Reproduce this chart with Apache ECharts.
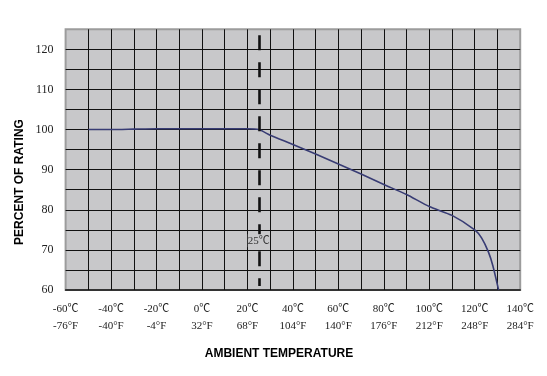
<!DOCTYPE html>
<html>
<head>
<meta charset="utf-8">
<script src="https://cdn.jsdelivr.net/npm/echarts@6/dist/echarts.min.js"></script>
<style>html,body{margin:0;padding:0;background:#fff;}#c{width:547px;height:376px;}</style>
</head>
<body>
<div id="c"></div>
<script>
var temps   = [-50, -40, -30, -20, 0, 20, 25, 30, 40, 50, 60, 70, 80, 90, 100, 110, 120, 123, 126, 128, 130.5];
var ratings = [100, 100, 100.1, 100.2, 100.2, 100.2, 100, 98.6, 96.3, 93.9, 91.4, 88.9, 86.3, 83.8, 80.8, 78.6, 75, 73, 69.5, 66, 60];
var celsiusTicks = [-60, -40, -20, 0, 20, 40, 60, 80, 100, 120, 140];
var celsiusLabels = ['-60℃', '-40℃', '-20℃', '0℃', '20℃', '40℃', '60℃', '80℃', '100℃', '120℃', '140℃'];
var fahrenheitLabels = ['-76°F', '-40°F', '-4°F', '32°F', '68°F', '104°F', '140°F', '176°F', '212°F', '248°F', '284°F'];
var markerTemp = 25;
var markerRange = [123.5, 61];
var markerLabelValue = 72.3;
var markerLabel = '25℃';

var chart = echarts.init(document.getElementById('c'));
var seriesData = temps.map(function (t, i) { return [t, ratings[i]]; });
var labelFont = 'Liberation Serif, Noto Sans CJK SC, serif';

chart.setOption({
  animation: false,
  grid: {
    left: 65.6, right: 26.8, top: 29.3, bottom: 86,
    show: true, backgroundColor: '#c8c8ca', borderColor: '#9c9c9c', borderWidth: 2
  },
  xAxis: {
    type: 'value', min: -60, max: 140, interval: 10,
    axisLine: { show: true, onZero: false, lineStyle: { color: '#111', width: 1.5 } },
    axisTick: { show: false },
    splitLine: { show: true, showMinLine: false, showMaxLine: false, lineStyle: { color: '#111', width: 1 } },
    axisLabel: {
      margin: 11, color: '#222', fontFamily: labelFont, fontSize: 11, lineHeight: 17,
      formatter: function (v) {
        var i = celsiusTicks.indexOf(v);
        return i < 0 ? '' : celsiusLabels[i] + '\n' + fahrenheitLabels[i];
      }
    }
  },
  yAxis: {
    type: 'value', min: 60, max: 125, interval: 5,
    axisLine: { show: false },
    axisTick: { show: false },
    splitLine: { show: true, showMinLine: false, showMaxLine: false, lineStyle: { color: '#111', width: 1 } },
    axisLabel: {
      margin: 12, color: '#222', fontFamily: labelFont, fontSize: 12,
      formatter: function (v) { return (v % 10 === 0) ? String(v) : ''; }
    }
  },
  graphic: [
    { type: 'text', x: 20, y: 182, rotation: Math.PI / 2,
      style: { text: 'PERCENT OF RATING', textAlign: 'center', textVerticalAlign: 'middle',
               font: 'bold 12px Liberation Sans, Arial, sans-serif', fill: '#000' } },
    { type: 'text', x: 279, y: 354,
      style: { text: 'AMBIENT TEMPERATURE', textAlign: 'center', textVerticalAlign: 'middle',
               font: 'bold 12px Liberation Sans, Arial, sans-serif', fill: '#000' } }
  ],
  series: [{
    type: 'line',
    data: seriesData,
    showSymbol: false,
    smooth: 0.2,
    lineStyle: { color: '#383c74', width: 1.6 },
    z: 3,
    markLine: {
      silent: true, symbol: 'none',
      label: { show: false },
      lineStyle: { color: '#111', width: 2.6, type: [15, 12] },
      data: [[{ coord: [markerTemp, markerRange[0]] }, { coord: [markerTemp, markerRange[1]] }]],
      z: 4
    },
    markPoint: {
      silent: true, symbol: 'circle', symbolSize: 0,
      data: [{ coord: [markerTemp, markerLabelValue] }],
      label: { show: true, position: 'inside', formatter: markerLabel, color: '#333',
               fontFamily: labelFont, fontSize: 11, backgroundColor: '#c8c8ca', padding: [1, 0] },
      z: 5
    }
  }]
});
</script>
</body>
</html>
